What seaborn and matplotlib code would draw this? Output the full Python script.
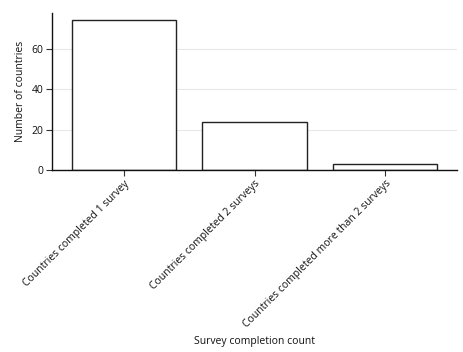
import pandas as pd
import seaborn as sns
import matplotlib.pyplot as plt

# Survey completion data
categories = ['Countries completed 1 survey',
              'Countries completed 2 surveys',
              'Countries completed more than 2 surveys']
counts = [74, 24, 3]

df = pd.DataFrame({'category': categories, 'count': counts})

sns.set_theme(style='white')
plt.rcParams['font.family'] = ['Open Sans', 'DejaVu Sans']

fig = plt.figure(figsize=(4.64, 3.52), dpi=100)
ax = fig.add_axes([0.112, 0.517, 0.873, 0.446])

sns.barplot(data=df, x='category', y='count', color='white',
            edgecolor='#222222', linewidth=1.0, width=0.8, ax=ax, zorder=2)

ax.set_xlim(-0.55, 2.55)
ax.set_ylim(0, 77.7)
ax.set_yticks([0, 20, 40, 60])
ax.yaxis.grid(True, color='#e8e8e8', linewidth=0.8, zorder=0)
ax.set_axisbelow(True)

sns.despine(ax=ax)
for s in ['left', 'bottom']:
    ax.spines[s].set_color('#111111')
    ax.spines[s].set_linewidth(1.0)

ax.tick_params(axis='both', which='major', length=4, width=0.8,
               color='#333333', labelcolor='#111111', labelsize=7.5,
               bottom=True, left=True, pad=2)
plt.setp(ax.get_xticklabels(), rotation=45, ha='right', rotation_mode='anchor')

ax.set_xlabel('Survey completion count', fontsize=7.5, color='#111111')
ax.set_ylabel('Number of countries', fontsize=7.5, color='#111111')
ax.xaxis.set_label_coords(0.5, -1.055)

fig.savefig('out.png', dpi=100)
